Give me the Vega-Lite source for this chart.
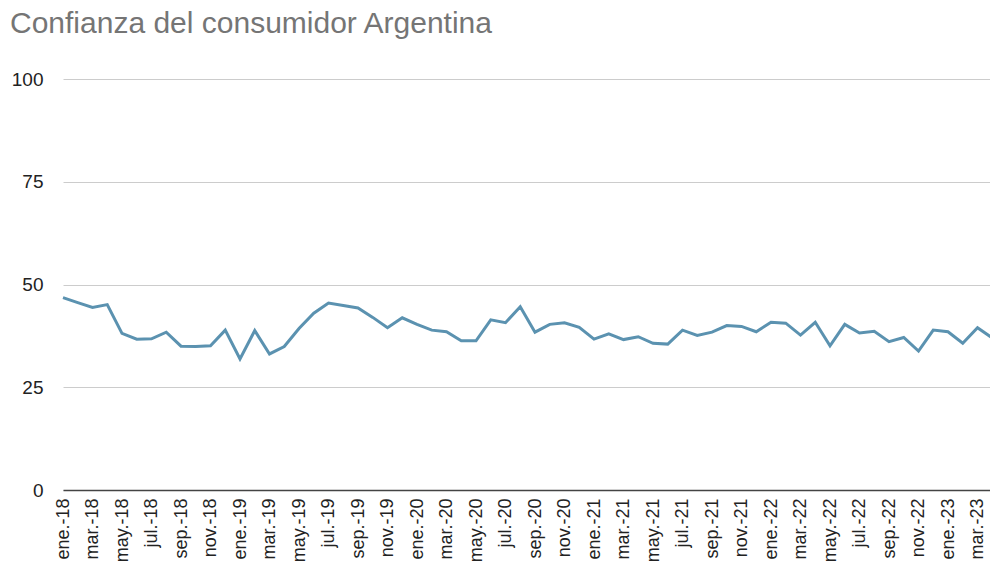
{
  "$schema": "https://vega.github.io/schema/vega-lite/v6.json",
  "autosize": {"type": "none"},
  "padding": {"left": 55, "top": 79, "right": 0, "bottom": 81},
  "width": 935,
  "height": 411,
  "background": "white",
  "title": {
    "text": "Confianza del consumidor Argentina",
    "anchor": "start",
    "frame": "group",
    "dx": -45,
    "offset": 7,
    "baseline": "alphabetic",
    "font": "Liberation Sans",
    "fontSize": 30,
    "fontWeight": "normal",
    "color": "#757575"
  },
  "data": {
    "values": [
      {"mes": "ene.-18", "valor": 46.8}, {"mes": "feb.-18", "valor": 45.6}, {"mes": "mar.-18", "valor": 44.4}, {"mes": "abr.-18", "valor": 45.1},
      {"mes": "may.-18", "valor": 38.1}, {"mes": "jun.-18", "valor": 36.7}, {"mes": "jul.-18", "valor": 36.8}, {"mes": "ago.-18", "valor": 38.4},
      {"mes": "sep.-18", "valor": 35.0}, {"mes": "oct.-18", "valor": 34.9}, {"mes": "nov.-18", "valor": 35.1}, {"mes": "dic.-18", "valor": 38.9},
      {"mes": "ene.-19", "valor": 31.9}, {"mes": "feb.-19", "valor": 38.8}, {"mes": "mar.-19", "valor": 33.1}, {"mes": "abr.-19", "valor": 34.9},
      {"mes": "may.-19", "valor": 39.3}, {"mes": "jun.-19", "valor": 43.0}, {"mes": "jul.-19", "valor": 45.5}, {"mes": "ago.-19", "valor": 44.9},
      {"mes": "sep.-19", "valor": 44.3}, {"mes": "oct.-19", "valor": 42.0}, {"mes": "nov.-19", "valor": 39.5}, {"mes": "dic.-19", "valor": 41.9},
      {"mes": "ene.-20", "valor": 40.3}, {"mes": "feb.-20", "valor": 38.9}, {"mes": "mar.-20", "valor": 38.5}, {"mes": "abr.-20", "valor": 36.3},
      {"mes": "may.-20", "valor": 36.3}, {"mes": "jun.-20", "valor": 41.4}, {"mes": "jul.-20", "valor": 40.7}, {"mes": "ago.-20", "valor": 44.6},
      {"mes": "sep.-20", "valor": 38.4}, {"mes": "oct.-20", "valor": 40.3}, {"mes": "nov.-20", "valor": 40.7}, {"mes": "dic.-20", "valor": 39.6},
      {"mes": "ene.-21", "valor": 36.7}, {"mes": "feb.-21", "valor": 38.0}, {"mes": "mar.-21", "valor": 36.6}, {"mes": "abr.-21", "valor": 37.3},
      {"mes": "may.-21", "valor": 35.7}, {"mes": "jun.-21", "valor": 35.5}, {"mes": "jul.-21", "valor": 38.9}, {"mes": "ago.-21", "valor": 37.6},
      {"mes": "sep.-21", "valor": 38.4}, {"mes": "oct.-21", "valor": 40.0}, {"mes": "nov.-21", "valor": 39.8}, {"mes": "dic.-21", "valor": 38.5},
      {"mes": "ene.-22", "valor": 40.8}, {"mes": "feb.-22", "valor": 40.6}, {"mes": "mar.-22", "valor": 37.7}, {"mes": "abr.-22", "valor": 40.8},
      {"mes": "may.-22", "valor": 35.1}, {"mes": "jun.-22", "valor": 40.3}, {"mes": "jul.-22", "valor": 38.2}, {"mes": "ago.-22", "valor": 38.6},
      {"mes": "sep.-22", "valor": 36.1}, {"mes": "oct.-22", "valor": 37.1}, {"mes": "nov.-22", "valor": 33.8}, {"mes": "dic.-22", "valor": 38.9},
      {"mes": "ene.-23", "valor": 38.5}, {"mes": "feb.-23", "valor": 35.7}, {"mes": "mar.-23", "valor": 39.5}, {"mes": "abr.-23", "valor": 37.0}
    ]
  },
  "mark": {"type": "line", "color": "#5b92b0", "strokeWidth": 3, "clip": true, "strokeJoin": "miter"},
  "encoding": {
    "x": {
      "field": "mes",
      "type": "ordinal",
      "sort": null,
      "scale": {"type": "point", "padding": 0, "range": [8, 937.25]},
      "axis": {
        "title": null,
        "values": ["ene.-18","mar.-18","may.-18","jul.-18","sep.-18","nov.-18","ene.-19","mar.-19","may.-19","jul.-19","sep.-19","nov.-19","ene.-20","mar.-20","may.-20","jul.-20","sep.-20","nov.-20","ene.-21","mar.-21","may.-21","jul.-21","sep.-21","nov.-21","ene.-22","mar.-22","may.-22","jul.-22","sep.-22","nov.-22","ene.-23","mar.-23"],
        "labelAngle": -90,
        "labelFont": "Liberation Sans",
        "labelFontSize": 18,
        "labelColor": "#222222",
        "labelPadding": 8,
        "labelOverlap": false,
        "ticks": false,
        "domain": true,
        "domainColor": "#444444",
        "domainWidth": 1.5,
        "grid": false
      }
    },
    "y": {
      "field": "valor",
      "type": "quantitative",
      "scale": {"domain": [0, 100], "nice": false},
      "axis": {
        "title": null,
        "values": [0, 25, 50, 75, 100],
        "labelFont": "Liberation Sans",
        "labelFontSize": 19,
        "labelColor": "#222222",
        "labelPadding": 12,
        "ticks": false,
        "domain": false,
        "grid": true,
        "gridColor": "#cccccc",
        "gridWidth": 1
      }
    }
  },
  "config": {"view": {"stroke": null}}
}
